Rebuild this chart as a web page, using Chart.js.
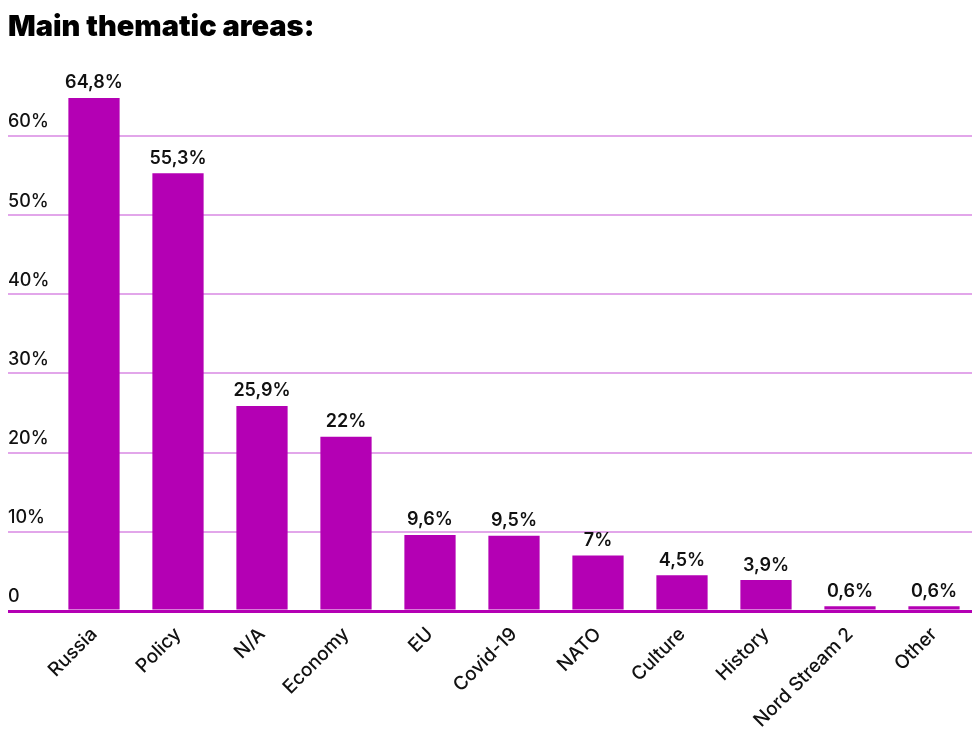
<!DOCTYPE html>
<html lang="en">
    <head>
        <meta charset="UTF-8" />
        <title>Main thematic areas</title>
        <script src="https://cdn.jsdelivr.net/npm/chart.js"></script>
        <style>
            html,
            body {
                margin: 0;
                padding: 0;
                background: #ffffff;
                overflow: hidden;
            }
            .chart-container {
                width: 976px;
                height: 734px;
            }
        </style>
    </head>
    <body>
        <div class="chart-container">
            <canvas id="themesChart"></canvas>
        </div>

        <script>
            const categories = [
                "Russia",
                "Policy",
                "N/A",
                "Economy",
                "EU",
                "Covid-19",
                "NATO",
                "Culture",
                "History",
                "Nord Stream 2",
                "Other",
            ];
            const shares = [64.8, 55.3, 25.9, 22, 9.6, 9.5, 7, 4.5, 3.9, 0.6, 0.6];
            const yTicks = [0, 10, 20, 30, 40, 50, 60];

            const barColor = "#b400b4";
            const gridColor = "#e2a6ea";
            const fontFamily = "Inter, 'Open Sans', sans-serif";

            // value labels above each bar, comma as decimal separator
            const valueLabels = {
                id: "valueLabels",
                afterDatasetsDraw(chart) {
                    const ctx = chart.ctx;
                    const meta = chart.getDatasetMeta(0);
                    ctx.save();
                    ctx.font = "600 18px " + fontFamily;
                    ctx.fillStyle = "#111111";
                    ctx.textAlign = "center";
                    ctx.textBaseline = "bottom";
                    meta.data.forEach((bar, i) => {
                        const text = String(shares[i]).replace(".", ",") + "%";
                        ctx.fillText(text, bar.x, bar.y - 6);
                    });
                    ctx.restore();
                },
            };

            new Chart(document.getElementById("themesChart"), {
                type: "bar",
                data: {
                    labels: categories,
                    datasets: [
                        {
                            data: shares,
                            backgroundColor: barColor,
                            barPercentage: 0.61,
                            categoryPercentage: 1,
                        },
                    ],
                },
                options: {
                    responsive: true,
                    maintainAspectRatio: false,
                    animation: false,
                    layout: { padding: { left: 8, right: 0, top: 0, bottom: 0 } },
                    plugins: {
                        legend: { display: false },
                        tooltip: { enabled: false },
                        title: {
                            display: true,
                            text: "Main thematic areas:",
                            align: "start",
                            color: "#000000",
                            font: { family: fontFamily, size: 29, weight: 900 },
                            padding: { top: 10, bottom: 12 },
                        },
                    },
                    scales: {
                        x: {
                            grid: { display: false, drawTicks: false },
                            border: { display: false },
                            ticks: {
                                color: "#111111",
                                font: { family: fontFamily, size: 19, weight: 500 },
                                minRotation: 45,
                                maxRotation: 45,
                                padding: 12,
                            },
                            afterFit: (scale) => {
                                scale.height = 123;
                            },
                        },
                        y: {
                            min: 0,
                            max: 70,
                            afterBuildTicks: (scale) => {
                                scale.ticks = yTicks.concat([70]).map((v) => ({ value: v }));
                            },
                            grid: {
                                color: (c) =>
                                    c.tick.value === 0
                                        ? barColor
                                        : c.tick.value === 70
                                        ? "rgba(0,0,0,0)"
                                        : gridColor,
                                lineWidth: (c) => (c.tick.value === 0 ? 3 : 2),
                                tickLength: 44,
                            },
                            border: { display: false },
                            ticks: {
                                color: "#111111",
                                font: { family: fontFamily, size: 18, weight: 500 },
                                crossAlign: "far",
                                labelOffset: -14,
                                callback: (v) => (v === 70 ? "" : v === 0 ? "0" : v + "%"),
                            },
                            afterFit: (scale) => {
                                scale.width = 44;
                            },
                        },
                    },
                },
                plugins: [valueLabels],
            });
        </script>
    </body>
</html>
